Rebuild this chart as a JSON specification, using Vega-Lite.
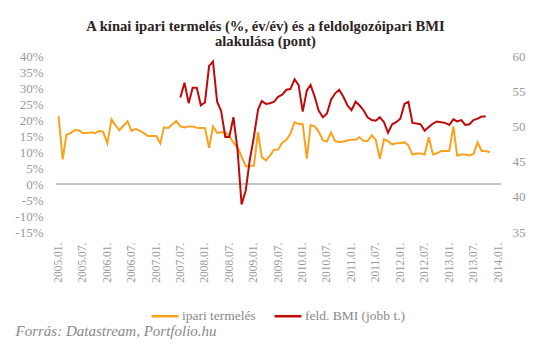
{
  "$schema": "https://vega.github.io/schema/vega-lite/v6.json",
  "width": 445,
  "height": 176,
  "autosize": {"type": "none"},
  "padding": {"left": 56, "top": 56, "right": 40, "bottom": 118},
  "background": "white",
  "title": {
    "text": ["A kínai ipari termelés (%, év/év) és a feldolgozóipari BMI", "alakulása (pont)"],
    "font": "Liberation Serif",
    "fontSize": 14.6,
    "fontWeight": "bold",
    "color": "#2d2323",
    "lineHeight": 15,
    "anchor": "middle",
    "dx": -13,
    "offset": 1
  },
  "config": {
    "view": {"stroke": null},
    "axis": {"grid": false, "domain": false, "ticks": false, "labelFont": "Liberation Serif", "labelColor": "#999999", "labelOverlap": false}
  },
  "datasets": {
    "ip": [
      {"d":"2005-01-01","v":21.2},{"d":"2005-02-01","v":7.7},{"d":"2005-03-01","v":15.4},{"d":"2005-04-01","v":15.9},{"d":"2005-05-01","v":16.8},{"d":"2005-06-01","v":16.8},{"d":"2005-07-01","v":15.9},{"d":"2005-08-01","v":15.9},{"d":"2005-09-01","v":16.2},{"d":"2005-10-01","v":15.9},{"d":"2005-11-01","v":16.6},{"d":"2005-12-01","v":16.3},
      {"d":"2006-01-01","v":12.7},{"d":"2006-02-01","v":20.2},{"d":"2006-03-01","v":18.5},{"d":"2006-04-01","v":16.8},{"d":"2006-05-01","v":18.2},{"d":"2006-06-01","v":19.6},{"d":"2006-07-01","v":16.6},{"d":"2006-08-01","v":17.2},{"d":"2006-09-01","v":16.6},{"d":"2006-10-01","v":15.9},{"d":"2006-11-01","v":15.0},{"d":"2006-12-01","v":15.0},
      {"d":"2007-01-01","v":15.0},{"d":"2007-02-01","v":12.7},{"d":"2007-03-01","v":17.7},{"d":"2007-04-01","v":17.5},{"d":"2007-05-01","v":18.6},{"d":"2007-06-01","v":19.7},{"d":"2007-07-01","v":18.0},{"d":"2007-08-01","v":17.7},{"d":"2007-09-01","v":18.0},{"d":"2007-10-01","v":18.0},{"d":"2007-11-01","v":17.6},{"d":"2007-12-01","v":17.5},
      {"d":"2008-01-01","v":17.5},{"d":"2008-02-01","v":11.3},{"d":"2008-03-01","v":18.0},{"d":"2008-04-01","v":16.0},{"d":"2008-05-01","v":16.2},{"d":"2008-06-01","v":16.1},{"d":"2008-07-01","v":15.0},{"d":"2008-08-01","v":12.9},{"d":"2008-09-01","v":11.5},{"d":"2008-10-01","v":8.6},{"d":"2008-11-01","v":5.5},{"d":"2008-12-01","v":5.7},
      {"d":"2009-01-01","v":5.7},{"d":"2009-02-01","v":16.2},{"d":"2009-03-01","v":8.4},{"d":"2009-04-01","v":7.4},{"d":"2009-05-01","v":8.9},{"d":"2009-06-01","v":10.7},{"d":"2009-07-01","v":10.8},{"d":"2009-08-01","v":12.9},{"d":"2009-09-01","v":13.8},{"d":"2009-10-01","v":15.7},{"d":"2009-11-01","v":19.3},{"d":"2009-12-01","v":18.8},
      {"d":"2010-01-01","v":18.7},{"d":"2010-02-01","v":7.9},{"d":"2010-03-01","v":18.4},{"d":"2010-04-01","v":18.0},{"d":"2010-05-01","v":16.4},{"d":"2010-06-01","v":13.6},{"d":"2010-07-01","v":13.3},{"d":"2010-08-01","v":16.1},{"d":"2010-09-01","v":13.4},{"d":"2010-10-01","v":13.1},{"d":"2010-11-01","v":13.3},{"d":"2010-12-01","v":13.6},
      {"d":"2011-01-01","v":13.8},{"d":"2011-02-01","v":13.8},{"d":"2011-03-01","v":14.6},{"d":"2011-04-01","v":13.4},{"d":"2011-05-01","v":13.4},{"d":"2011-06-01","v":15.2},{"d":"2011-07-01","v":13.8},{"d":"2011-08-01","v":7.9},{"d":"2011-09-01","v":14.0},{"d":"2011-10-01","v":13.4},{"d":"2011-11-01","v":12.4},{"d":"2011-12-01","v":12.7},
      {"d":"2012-01-01","v":12.8},{"d":"2012-02-01","v":13.0},{"d":"2012-03-01","v":12.1},{"d":"2012-04-01","v":9.2},{"d":"2012-05-01","v":9.5},{"d":"2012-06-01","v":9.5},{"d":"2012-07-01","v":9.2},{"d":"2012-08-01","v":14.6},{"d":"2012-09-01","v":9.2},{"d":"2012-10-01","v":9.6},{"d":"2012-11-01","v":10.3},{"d":"2012-12-01","v":10.3},
      {"d":"2013-01-01","v":10.3},{"d":"2013-02-01","v":18.0},{"d":"2013-03-01","v":8.9},{"d":"2013-04-01","v":9.2},{"d":"2013-05-01","v":9.2},{"d":"2013-06-01","v":8.9},{"d":"2013-07-01","v":9.4},{"d":"2013-08-01","v":13.0},{"d":"2013-09-01","v":10.3},{"d":"2013-10-01","v":10.3},{"d":"2013-11-01","v":9.9}
    ],
    "bmi": [
      {"d":"2007-07-01","v":54.1},{"d":"2007-08-01","v":56.2},{"d":"2007-09-01","v":53.3},{"d":"2007-10-01","v":55.5},{"d":"2007-11-01","v":55.5},{"d":"2007-12-01","v":53.0},
      {"d":"2008-01-01","v":53.4},{"d":"2008-02-01","v":58.6},{"d":"2008-03-01","v":59.2},{"d":"2008-04-01","v":53.5},{"d":"2008-05-01","v":52.2},{"d":"2008-06-01","v":48.5},{"d":"2008-07-01","v":48.5},{"d":"2008-08-01","v":51.3},{"d":"2008-09-01","v":46.6},{"d":"2008-10-01","v":38.9},{"d":"2008-11-01","v":40.9},{"d":"2008-12-01","v":45.2},
      {"d":"2009-01-01","v":48.5},{"d":"2009-02-01","v":52.4},{"d":"2009-03-01","v":53.6},{"d":"2009-04-01","v":53.2},{"d":"2009-05-01","v":53.3},{"d":"2009-06-01","v":53.5},{"d":"2009-07-01","v":54.2},{"d":"2009-08-01","v":54.5},{"d":"2009-09-01","v":55.2},{"d":"2009-10-01","v":55.3},{"d":"2009-11-01","v":56.7},{"d":"2009-12-01","v":55.9},
      {"d":"2010-01-01","v":52.1},{"d":"2010-02-01","v":55.1},{"d":"2010-03-01","v":55.9},{"d":"2010-04-01","v":54.2},{"d":"2010-05-01","v":52.2},{"d":"2010-06-01","v":51.3},{"d":"2010-07-01","v":51.8},{"d":"2010-08-01","v":53.8},{"d":"2010-09-01","v":54.7},{"d":"2010-10-01","v":55.2},{"d":"2010-11-01","v":54.2},{"d":"2010-12-01","v":53.0},
      {"d":"2011-01-01","v":52.3},{"d":"2011-02-01","v":53.5},{"d":"2011-03-01","v":53.0},{"d":"2011-04-01","v":52.3},{"d":"2011-05-01","v":51.3},{"d":"2011-06-01","v":50.9},{"d":"2011-07-01","v":50.8},{"d":"2011-08-01","v":51.3},{"d":"2011-09-01","v":50.6},{"d":"2011-10-01","v":49.1},{"d":"2011-11-01","v":50.3},{"d":"2011-12-01","v":50.6},
      {"d":"2012-01-01","v":51.1},{"d":"2012-02-01","v":53.2},{"d":"2012-03-01","v":53.5},{"d":"2012-04-01","v":50.5},{"d":"2012-05-01","v":50.4},{"d":"2012-06-01","v":50.3},{"d":"2012-07-01","v":49.4},{"d":"2012-08-01","v":49.9},{"d":"2012-09-01","v":50.4},{"d":"2012-10-01","v":50.7},{"d":"2012-11-01","v":50.6},{"d":"2012-12-01","v":50.5},
      {"d":"2013-01-01","v":50.2},{"d":"2013-02-01","v":51.0},{"d":"2013-03-01","v":50.7},{"d":"2013-04-01","v":50.9},{"d":"2013-05-01","v":50.2},{"d":"2013-06-01","v":50.3},{"d":"2013-07-01","v":50.9},{"d":"2013-08-01","v":51.1},{"d":"2013-09-01","v":51.4},{"d":"2013-10-01","v":51.4}
    ]
  },
  "layer": [
    {
      "layer": [
        {
          "data": {"name": "ip"},
          "mark": {"type": "line", "strokeWidth": 2},
          "encoding": {
            "x": {
              "field": "d", "type": "temporal",
              "scale": {"type": "utc", "domain": [{"year": 2004, "month": 12, "date": 13, "utc": true}, {"year": 2014, "month": 1, "date": 23, "utc": true}]},
              "axis": {
                "format": "%Y.%m.",
                "tickCount": {"interval": "month", "step": 6},
                "labelAngle": 270,
                "labelAlign": "right",
                "labelBaseline": "middle",
                "labelPadding": 10,
                "labelFontSize": 11.5,
                "labelOverlap": false,
                "labelFlush": false,
                "labelBound": false,
                "title": "Forrás: Datastream, Portfolio.hu",
                "titleFont": "Liberation Serif",
                "titleFontSize": 15,
                "titleFontStyle": "italic",
                "titleFontWeight": "normal",
                "titleColor": "#8a8a8a",
                "titleAlign": "left",
                "titleBaseline": "middle",
                "titleX": -41,
                "titleY": 98
              }
            },
            "y": {
              "field": "v", "type": "quantitative",
              "scale": {"domain": [-15, 40], "nice": false, "zero": false},
              "axis": {
                "orient": "left",
                "values": [-15, -10, -5, 0, 5, 10, 15, 20, 25, 30, 35, 40],
                "labelExpr": "datum.value + '%'",
                "labelPadding": 13,
                "labelFontSize": 13,
                "labelOverlap": false,
                "labelSeparation": 0,
                "title": null
              }
            },
            "color": {
              "datum": "ipari termelés", "type": "nominal",
              "scale": {"domain": ["ipari termelés", "feld. BMI (jobb t.)"], "range": ["#FAA21B", "#C00A0A"]},
              "legend": {
                "orient": "none",
                "legendX": 94,
                "legendY": 245,
                "direction": "horizontal",
                "title": null,
                "symbolType": "stroke",
                "symbolSize": 729,
                "symbolStrokeWidth": 2.5,
                "labelFont": "Liberation Serif",
                "labelFontSize": 13.5,
                "labelColor": "#888888",
                "labelOffset": 2,
                "columnPadding": 13
              }
            }
          }
        },
        {
          "data": {"values": [{"zero": 0}]},
          "mark": {"type": "rule", "color": "#8c8c8c", "strokeWidth": 1},
          "encoding": {
            "y": {
              "field": "zero", "type": "quantitative",
              "scale": {"domain": [-15, 40], "nice": false, "zero": false},
              "axis": {
                "orient": "left",
                "values": [-15, -10, -5, 0, 5, 10, 15, 20, 25, 30, 35, 40],
                "labelExpr": "datum.value + '%'",
                "labelPadding": 13,
                "labelFontSize": 13,
                "labelOverlap": false,
                "labelSeparation": 0,
                "title": null
              }
            }
          }
        }
      ]
    },
    {
      "data": {"name": "bmi"},
      "mark": {"type": "line", "strokeWidth": 2},
      "encoding": {
        "x": {
          "field": "d", "type": "temporal",
          "scale": {"type": "utc", "domain": [{"year": 2004, "month": 12, "date": 13, "utc": true}, {"year": 2014, "month": 1, "date": 23, "utc": true}]}
        },
        "y": {
          "field": "v", "type": "quantitative",
          "scale": {"domain": [35, 60], "nice": false, "zero": false},
          "axis": {
            "orient": "right",
            "values": [35, 40, 45, 50, 55, 60],
            "labelPadding": 11,
            "labelFontSize": 13,
            "labelOverlap": false,
            "title": null
          }
        },
        "color": {"datum": "feld. BMI (jobb t.)", "type": "nominal"}
      }
    }
  ],
  "resolve": {"scale": {"y": "independent"}}
}
